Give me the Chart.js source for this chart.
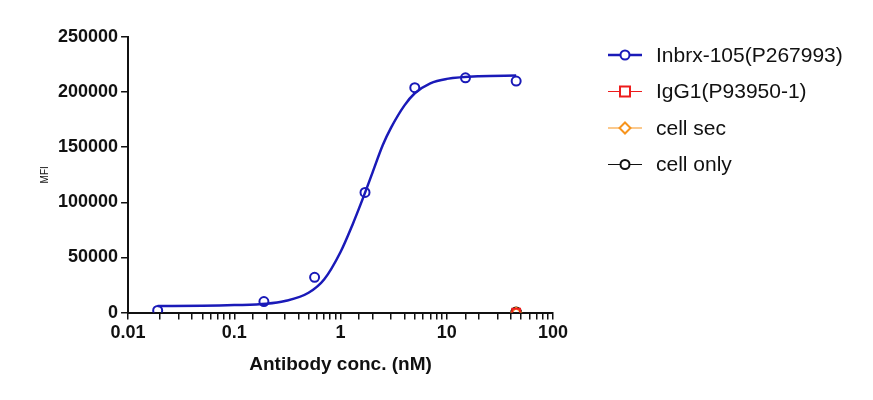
<!DOCTYPE html>
<html>
<head>
<meta charset="utf-8">
<script src="https://cdn.jsdelivr.net/npm/chart.js@4"></script>
<style>
  body { margin: 0; background: #fff; }
  #wrap { width: 873px; height: 400px; }
</style>
</head>
<body>
<div id="wrap"><canvas id="c" width="873" height="400"></canvas></div>
<script>
// measured points
const conc = [0.019, 0.19, 0.57, 1.7, 5.0, 15, 45];
const inbrx = [2000, 10000, 32000, 109000, 204000, 213000, 210000];
const ctrlConc = [45];
const igg1 = [0];
const cellSec = [0];
const cellOnly = [0];
// fitted curve
const fitConc = [0.019, 0.05, 0.1, 0.2, 0.3, 0.5, 0.7, 1.0, 1.3, 1.6, 2.0, 2.5, 3.0, 4.0, 5.0, 7.0, 10, 20, 45];
const fitMfi = [6000, 6200, 6800, 8000, 10500, 18000, 30000, 55000, 80000, 102000, 127000, 152000, 168000, 188000, 199000, 208000, 212000, 214500, 215000];

const seriesNames = ['Inbrx-105(P267993)', 'IgG1(P93950-1)', 'cell sec', 'cell only'];
const seriesColors = ['#1a1ab8', '#ee1c1c', '#f7941d', '#111111'];
const seriesShapes = ['circle', 'rect', 'rectRot', 'circle'];

const pts = (xs, ys) => xs.map((x, i) => ({ x: x, y: ys[i] }));
const marker = i => ({
  label: seriesNames[i],
  showLine: false,
  borderColor: seriesColors[i],
  backgroundColor: 'rgba(0,0,0,0)',
  borderWidth: 2,
  pointStyle: seriesShapes[i],
  pointRadius: 5,
});

const legendPlugin = {
  id: 'sideLegend',
  afterDraw(chart) {
    const ctx = chart.ctx;
    ctx.save();
    seriesNames.forEach((name, i) => {
      const y = 55 + i * 36.5;
      ctx.strokeStyle = seriesColors[i];
      ctx.lineWidth = i === 0 ? 2.5 : 1.2;
      ctx.beginPath(); ctx.moveTo(608, y); ctx.lineTo(642, y); ctx.stroke();
      ctx.lineWidth = 2;
      ctx.fillStyle = '#fff';
      ctx.beginPath();
      if (seriesShapes[i] === 'rect') ctx.rect(620, y - 5, 10, 10);
      else if (seriesShapes[i] === 'rectRot') { ctx.moveTo(625, y - 5.5); ctx.lineTo(630.5, y); ctx.lineTo(625, y + 5.5); ctx.lineTo(619.5, y); ctx.closePath(); }
      else ctx.arc(625, y, 4.5, 0, Math.PI * 2);
      ctx.fill(); ctx.stroke();
      ctx.fillStyle = '#111';
      ctx.font = '21px Arial, "Liberation Sans"';
      ctx.textBaseline = 'middle';
      ctx.fillText(name, 656, y + 1);
    });
    ctx.restore();
  }
};

new Chart(document.getElementById('c').getContext('2d'), {
  type: 'scatter',
  data: {
    datasets: [
      Object.assign(marker(1), { data: pts(ctrlConc, igg1), pointRadius: 5.5 }),
      Object.assign(marker(0), { data: pts(conc, inbrx), pointRadius: 4.5 }),
      Object.assign(marker(2), { data: pts(ctrlConc, cellSec) }),
      Object.assign(marker(3), { data: pts(ctrlConc, cellOnly) }),
      { label: 'fit', data: pts(fitConc, fitMfi), showLine: true, borderColor: seriesColors[0], borderWidth: 2.5, pointRadius: 0, cubicInterpolationMode: 'monotone' },
    ],
  },
  options: {
    responsive: false,
    animation: false,
    layout: { padding: { top: 37, right: 320, left: 35, bottom: 20 } },
    plugins: { legend: { display: false }, tooltip: { enabled: false } },
    scales: {
      x: {
        type: 'logarithmic',
        min: 0.01,
        max: 100,
        border: { color: '#111', width: 2 },
        grid: { drawOnChartArea: false, color: '#111', tickLength: 7, lineWidth: 1.5 },
        ticks: {
          color: '#111',
          font: { family: 'Arial, "Liberation Sans"', size: 18, weight: 'bold' },
          maxRotation: 0,
          autoSkip: false,
          callback: v => {
            const l = Math.log10(v);
            return Math.abs(l - Math.round(l)) < 1e-9 ? String(+v.toPrecision(2)) : '';
          },
        },
        title: { display: true, text: 'Antibody conc. (nM)', color: '#111', font: { family: 'Arial, "Liberation Sans"', size: 19, weight: 'bold' }, padding: { top: 6 } },
      },
      y: {
        min: 0,
        max: 250000,
        border: { color: '#111', width: 2 },
        grid: { drawOnChartArea: false, color: '#111', tickLength: 7, lineWidth: 1.5 },
        ticks: {
          stepSize: 50000,
          color: '#111',
          font: { family: 'Arial, "Liberation Sans"', size: 18, weight: 'bold' },
          callback: v => String(v),
        },
        title: { display: true, text: 'MFI', color: '#111', font: { family: 'Arial, "Liberation Sans"', size: 10 } },
      },
    },
  },
  plugins: [legendPlugin],
});
</script>
</body>
</html>
